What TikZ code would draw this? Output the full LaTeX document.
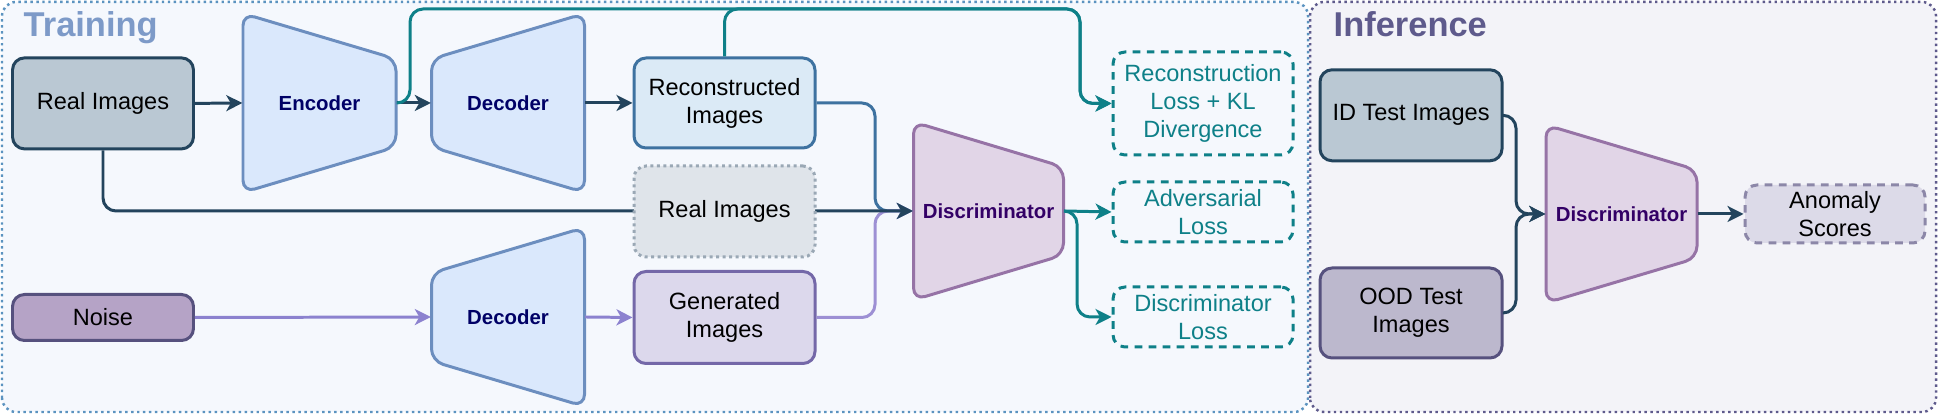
\documentclass[tikz,border=0pt]{standalone}
\usepackage{fontspec}
\setmainfont{Liberation Sans}
\usepackage{tikz}
\usetikzlibrary{calc}
\usetikzlibrary{arrows.meta}

\definecolor{darkln}{HTML}{23445D}
\definecolor{realfill}{HTML}{BAC8D3}
\definecolor{encfill}{HTML}{DAE8FC}
\definecolor{encln}{HTML}{6C8EBF}
\definecolor{encfont}{HTML}{000066}
\definecolor{reconfill}{HTML}{DBEAF6}
\definecolor{reconln}{HTML}{3E72A0}
\definecolor{grayfill}{HTML}{DFE4EA}
\definecolor{grayln}{HTML}{9AA8B5}
\definecolor{noisefill}{HTML}{B5A3C6}
\definecolor{noiseln}{HTML}{56517E}
\definecolor{noisearr}{HTML}{8C82CF}
\definecolor{genfill}{HTML}{DCD8EC}
\definecolor{genln}{HTML}{7468A8}
\definecolor{genarr}{HTML}{9D90D4}
\definecolor{discfill}{HTML}{E1D5E7}
\definecolor{discln}{HTML}{9673A6}
\definecolor{discfont}{HTML}{330066}
\definecolor{tealln}{HTML}{0E8088}
\definecolor{oodfill}{HTML}{BCB8CD}
\definecolor{anomfill}{HTML}{DCDAE8}
\definecolor{anomln}{HTML}{8C87A8}
\definecolor{trainbg}{HTML}{F5F8FD}
\definecolor{trainln}{HTML}{5B93C0}
\definecolor{traintxt}{HTML}{7D9AC8}
\definecolor{infbg}{HTML}{F3F3F8}
\definecolor{infln}{HTML}{5E5A8C}

\tikzset{
  box/.style={rounded corners=0.12cm, line width=0.85pt, minimum width=1.81cm,
    align=center, inner sep=0pt, font=\fontsize{6.7}{7.97}\selectfont},
  lossbox/.style={box, draw=tealln, dashed, dash pattern=on 2.2pt off 1.8pt,
    text=tealln, minimum width=1.80cm},
  traplbl/.style={inner sep=0pt, font=\bfseries\fontsize{5.8}{7}\selectfont},
  trapline/.style={line width=0.85pt, rounded corners=0.12cm},
  conn/.style={line width=0.85pt, rounded corners=0.13cm,
    -{Stealth[length=1.6mm,width=1.6mm,inset=0.45mm]}},
  panel/.style={line width=0.7pt, densely dotted, rounded corners=0.14cm},
  title/.style={anchor=base west, inner sep=0pt,
    font=\bfseries\fontsize{9.8}{12}\selectfont}
}

\begin{document}
\begin{tikzpicture}
    \useasboundingbox (0,0) rectangle (19.38,4.14);

    % panels
    \draw[panel, fill=trainbg, draw=trainln] (0.02,0.02) rectangle (13.08,4.12);
    \draw[panel, fill=infbg, draw=infln] (13.10,0.02) rectangle (19.36,4.12);
    \node[title, text=traintxt] (trainT) at (0.23,3.77) {Training};
    \node[title, text=infln] (infT) at (13.33,3.77) {Inference};

    % training
    \coordinate (encC) at (3.195,3.11);
    \coordinate (decAC) at (5.08,3.11);
    \coordinate (decBC) at (5.08,0.97);
    \coordinate (discC) at (9.885,2.03);

    \draw[trapline, fill=encfill, draw=encln] ($(encC)+(-0.765,0.895)$) -- ($(encC)+(0.765,0.44)$)
        -- ($(encC)+(0.765,-0.44)$) -- ($(encC)+(-0.765,-0.895)$) -- cycle;
    \draw[trapline, fill=encfill, draw=encln] ($(decAC)+(-0.765,0.44)$) -- ($(decAC)+(0.765,0.895)$)
        -- ($(decAC)+(0.765,-0.895)$) -- ($(decAC)+(-0.765,-0.44)$) -- cycle;
    \draw[trapline, fill=encfill, draw=encln] ($(decBC)+(-0.765,0.44)$) -- ($(decBC)+(0.765,0.895)$)
        -- ($(decBC)+(0.765,-0.895)$) -- ($(decBC)+(-0.765,-0.44)$) -- cycle;
    \draw[trapline, fill=discfill, draw=discln] ($(discC)+(-0.75,0.89)$) -- ($(discC)+(0.75,0.44)$)
        -- ($(discC)+(0.75,-0.44)$) -- ($(discC)+(-0.75,-0.89)$) -- cycle;

    \node[traplbl, text=encfont, minimum width=1.53cm, minimum height=1.79cm] (enc) at (encC) {Encoder};
    \node[traplbl, text=encfont, minimum width=1.53cm, minimum height=1.79cm] (decA) at (decAC) {Decoder};
    \node[traplbl, text=encfont, minimum width=1.53cm, minimum height=1.79cm] (decB) at (decBC) {Decoder};
    \node[traplbl, text=discfont, minimum width=1.50cm, minimum height=1.78cm] (disc) at (discC) {Discriminator};

    \node[box, fill=realfill, draw=darkln, minimum height=0.91cm] (realA) at (1.03,3.106) {Real Images};
    \node[box, fill=noisefill, draw=noiseln, minimum height=0.46cm] (noise) at (1.03,0.965) {Noise};
    \node[box, fill=reconfill, draw=reconln, minimum height=0.90cm] (recon) at (7.245,3.11) {Reconstructed\\Images};
    \node[box, fill=genfill, draw=genln, minimum height=0.92cm] (gen) at (7.245,0.965) {Generated\\Images};

    \node[lossbox, minimum height=1.03cm] (lossA) at (12.03,3.105) {Reconstruction\\Loss + KL\\Divergence};
    \node[lossbox, minimum height=0.60cm] (lossB) at (12.03,2.02) {Adversarial\\Loss};
    \node[lossbox, minimum height=0.60cm] (lossC) at (12.03,0.97) {Discriminator\\Loss};

    \draw[conn, darkln] (realA.east) -- (enc.west);
    \draw[conn, darkln] (enc.east) -- (decA.west);
    \draw[conn, darkln] (decA.east) -- (recon.west);
    \draw[conn, noisearr] (noise.east) -- (decB.west);
    \draw[conn, noisearr] (decB.east) -- (gen.west);

    \coordinate (topL) at (4.10,4.05);
    \coordinate (topR) at (10.80,4.05);
    \draw[conn, tealln] (enc.east) -| (topL) -- (topR) |- (lossA.west);
    \draw[conn, tealln] (recon.north) |- (topR) |- (lossA.west);

    \coordinate (jn) at (8.75,2.03);
    \draw[conn, reconln] (recon.east) -| (jn) -- (disc.west);
    \draw[conn, genarr] (gen.east) -| (jn) -- (disc.west);
    \draw[conn, darkln] (realA.south) |- (disc.west);
    \node[box, fill=grayfill, draw=grayln, densely dotted, minimum height=0.91cm] (realB) at (7.245,2.025) {Real Images};

    \coordinate (brk) at (10.77,2.03);
    \draw[conn, tealln] (disc.east) -- (lossB.west);
    \draw[conn, tealln] (disc.east) -- (brk) |- (lossC.west);

    % inference
    \coordinate (discIC) at (16.215,2.00);
    \draw[trapline, fill=discfill, draw=discln] ($(discIC)+(-0.755,0.89)$) -- ($(discIC)+(0.755,0.44)$)
        -- ($(discIC)+(0.755,-0.44)$) -- ($(discIC)+(-0.755,-0.89)$) -- cycle;
    \node[traplbl, text=discfont, minimum width=1.51cm, minimum height=1.78cm] (discI) at (discIC) {Discriminator};

    \node[box, fill=realfill, draw=darkln, minimum width=1.82cm, minimum height=0.91cm] (idT) at (14.11,2.987) {ID Test Images};
    \node[box, fill=oodfill, draw=noiseln, minimum width=1.82cm, minimum height=0.90cm] (oodT) at (14.11,1.01) {OOD Test\\Images};
    \node[box, fill=anomfill, draw=anomln, dashed, dash pattern=on 2.2pt off 1.8pt, minimum width=1.80cm, minimum height=0.58cm] (anom) at (18.35,2.00) {Anomaly\\Scores};

    \coordinate (jn2) at (15.16,2.00);
    \draw[conn, darkln] (idT.east) -| (jn2) -- (discI.west);
    \draw[conn, darkln] (oodT.east) -| (jn2) -- (discI.west);
    \draw[conn, darkln] (discI.east) -- (anom.west);
\end{tikzpicture}
\end{document}
